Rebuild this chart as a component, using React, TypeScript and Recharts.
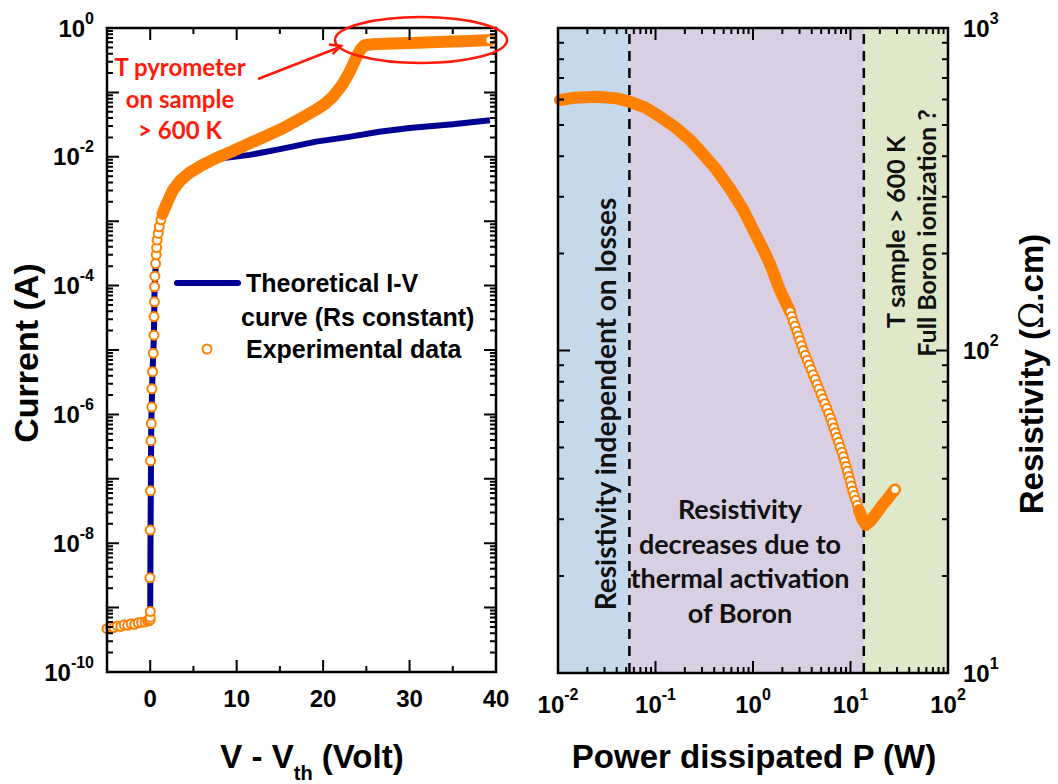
import React from "react";
import { ScatterChart, Scatter, XAxis, YAxis, ReferenceArea, ReferenceLine } from "recharts";

const ORANGE = "#ff8000";
const NAVY = "#000094";
const ARIAL = "'Liberation Sans', Arial, sans-serif";
const CALIBRI = "Lato, 'Open Sans', sans-serif";

// ---- left panel: current vs V - Vth ----
// reverse leakage, below threshold
const leakage: [number, number][] = [
  [-5.0, 4.7e-10], [-4.6, 5.0e-10], [-4.2, 4.9e-10], [-3.8, 5.2e-10], [-3.4, 5.1e-10],
  [-3.0, 5.4e-10], [-2.6, 5.3e-10], [-2.2, 5.6e-10], [-1.8, 5.5e-10], [-1.4, 5.8e-10],
  [-1.0, 5.9e-10], [-0.6, 6.0e-10], [-0.3, 6.2e-10], [-0.1, 6.3e-10], [0.0, 6.5e-10],
  [0.0, 7.1e-10], [0.01, 8.7e-10],
];
// turn-on, points still separated
const turnOn: [number, number][] = [
  [-0.03, 2.9e-9], [0.0, 1.6e-8], [0.03, 6.5e-8], [0.04, 1.9e-7], [0.08, 3.9e-7],
  [0.12, 7.2e-7], [0.18, 1.3e-6], [0.19, 2.5e-6], [0.27, 4.6e-6], [0.35, 8.9e-6],
  [0.43, 1.7e-5], [0.44, 3.3e-5], [0.49, 5.6e-5], [0.5, 9.6e-5], [0.54, 1.4e-4],
  [0.62, 2.2e-4], [0.69, 3.0e-4], [0.74, 3.9e-4], [0.8, 5.1e-4], [0.93, 6.5e-4],
  [1.04, 8.2e-4], [1.24, 1.05e-3],
];
// dense part of the measurement
const measured: [number, number][] = [
  [1.42, 1.3e-3], [1.6, 1.5e-3], [2.0, 2.0e-3], [2.6, 3.0e-3], [3.5, 4.3e-3],
  [4.5, 5.6e-3], [6.0, 7.4e-3], [7.6, 9.5e-3], [9.5, 1.22e-2], [11.5, 1.62e-2],
  [13.4, 2.1e-2], [15.3, 2.75e-2], [17.2, 3.8e-2], [19.2, 5.4e-2], [20.2, 6.6e-2],
  [21.1, 8.5e-2], [22.2, 0.13], [23.0, 0.2], [23.8, 0.34], [24.3, 0.46],
  [24.8, 0.54], [25.7, 0.56], [28.0, 0.575], [31.0, 0.59], [34.0, 0.61],
  [37.0, 0.63], [39.3, 0.65],
];
const theoretical: [number, number][] = [
  [0.0, 9e-10], [0.03, 1e-8], [0.12, 7e-7], [0.27, 4.6e-6], [0.43, 1.7e-5],
  [0.5, 9e-5], [0.7, 3e-4], [1.0, 8e-4], [1.43, 1.25e-3], [2.6, 3.0e-3],
  [4.5, 5.6e-3], [7.6, 9.2e-3], [11.5, 1.07e-2], [15.3, 1.34e-2], [19.2, 1.72e-2],
  [23.0, 2.04e-2], [26.5, 2.45e-2], [30.0, 2.8e-2], [35.0, 3.2e-2], [39.3, 3.7e-2],
];

// ---- right panel: resistivity vs dissipated power ----
const rhoPlateau: [number, number][] = [
  [0.0105, 598], [0.015, 608], [0.025, 612], [0.04, 605], [0.055, 590],
  [0.08, 565], [0.111, 531], [0.16, 492], [0.226, 450], [0.3, 410],
  [0.424, 363], [0.58, 318], [0.795, 273], [1.07, 228], [1.28, 205],
  [1.49, 186], [1.89, 154], [2.4, 132],
];
const rhoActivation: [number, number][] = [
  [2.40, 131.8], [2.50, 127.4], [2.59, 123.0], [2.70, 118.9], [2.81, 114.8],
  [2.92, 110.9], [3.03, 107.2], [3.16, 103.5], [3.28, 100.0], [3.44, 96.6],
  [3.60, 93.3], [3.77, 90.2], [3.95, 87.1], [4.14, 84.1], [4.34, 81.3],
  [4.54, 78.5], [4.75, 75.9], [4.98, 73.3], [5.21, 70.8], [5.46, 68.4],
  [5.72, 66.1], [5.98, 63.8], [6.24, 61.7], [6.49, 59.6], [6.73, 57.5],
  [7.00, 55.6], [7.26, 53.7], [7.55, 51.9], [7.83, 50.1], [8.15, 48.4],
  [8.45, 46.8], [8.73, 45.2], [9.02, 43.7], [9.29, 42.2], [9.59, 40.7],
  [9.91, 39.4], [10.21, 38.0], [10.54, 36.7], [10.91, 35.5], [11.32, 34.3],
  [11.75, 33.1], [12.19, 32.0],
];
const rhoUpturn: [number, number][] = [
  [12.19, 32.0], [13.2, 30.0], [14.4, 28.8], [16.0, 29.6], [18.5, 31.3],
  [21.0, 33.0], [23.5, 34.4], [26.0, 35.8], [28.6, 37.1],
];

const voltTicks = [0, 5, 10, 15, 20, 25, 30, 35, 40];
const currentDecades = [-10, -9, -8, -7, -6, -5, -4, -3, -2, -1, 0];
const powerDecades = [-2, -1, 0, 1, 2];
const rhoDecades = [1, 2, 3];
const regionEdges = [0.01, 0.054, 13.7, 100];
const regionFills = ["#c6d9ec", "#d9cfe3", "#e0e8ca"];

const pts = (a: [number, number][]) => a.map(([x, y]) => ({ x, y }));
const logTicks = (decs: number[]) => {
  const out: number[] = [];
  decs.slice(0, -1).forEach((d) => {
    for (let m = 1; m < 10; m++) out.push(m * 10 ** d);
  });
  out.push(10 ** decs[decs.length - 1]);
  return out;
};
const decadeOf = (v: number) => {
  const e = Math.log10(v);
  return Math.abs(e - Math.round(e)) < 1e-6 ? Math.round(e) : null;
};

// plot frames (page pixels), matching the chart margins below
const LEFT = { x: 107, y: 28, w: 389, h: 644 };
const RIGHT = { x: 558, y: 28, w: 390, h: 645 };

const labelStyle = { fontFamily: ARIAL, fontWeight: 700, fontSize: 24, fill: "#000" };

const pow10 = (x: number, y: number, exp: number, anchor: "start" | "middle" | "end") => (
  <text x={x} y={y} textAnchor={anchor} {...labelStyle}>
    <tspan>10</tspan>
    <tspan dy={-13} fontSize={16}>{String(exp)}</tspan>
  </text>
);

// axis tick labels
function CurrentTick(props: any) {
  const exp = decadeOf(props.payload.value);
  if (exp === null || exp % 2 !== 0) return <g />;
  return pow10(Number(props.x) - 13, Number(props.y) + 8.5, exp, "end");
}
function VoltTick(props: any) {
  const v = props.payload.value;
  if (v % 10 !== 0) return <g />;
  return <text x={Number(props.x)} y={Number(props.y) + 35} textAnchor="middle" {...labelStyle}>{v}</text>;
}
function PowerTick(props: any) {
  const exp = decadeOf(props.payload.value);
  if (exp === null) return <g />;
  return pow10(Number(props.x), Number(props.y) + 40, exp, "middle");
}
function RhoTick(props: any) {
  const exp = decadeOf(props.payload.value);
  if (exp === null) return <g />;
  return pow10(Number(props.x) + 15, Number(props.y) + 8.5, exp, "start");
}

// inward tick marks on all four sides of a frame
type Frame = { x: number; y: number; w: number; h: number };
const lin = (lo: number, hi: number) => (v: number) => (v - lo) / (hi - lo);
const logf = (lo: number, hi: number) => (v: number) => (Math.log10(v) - Math.log10(lo)) / (Math.log10(hi) - Math.log10(lo));
function FrameTicks({ f, xs, ys, fx, fy, xMajor, yMajor }: {
  f: Frame; xs: number[]; ys: number[];
  fx: (v: number) => number; fy: (v: number) => number;
  xMajor: (v: number) => boolean; yMajor: (v: number) => boolean;
}) {
  const d: string[] = [];
  xs.forEach((v) => {
    const px = f.x + fx(v) * f.w;
    const len = xMajor(v) ? 12 : 6;
    d.push(`M${px},${f.y + f.h}v${-len}M${px},${f.y}v${len}`);
  });
  ys.forEach((v) => {
    const py = f.y + f.h - fy(v) * f.h;
    const len = yMajor(v) ? 12 : 6;
    d.push(`M${f.x},${py}h${len}M${f.x + f.w},${py}h${-len}`);
  });
  return (
    <g>
      <path d={d.join("")} stroke="#000" strokeWidth={2} fill="none" />
      <rect x={f.x} y={f.y} width={f.w} height={f.h} fill="none" stroke="#000" strokeWidth={2.5} />
    </g>
  );
}

const openCircle = (p: any) => (
  <circle cx={p.cx} cy={p.cy} r={4.5} fill="#fff" stroke={ORANGE} strokeWidth={2} />
);
// dense runs of points: drawn as the band they form, with an open marker on the last one
const bandEnd = (arr: [number, number][]) => (p: any) => {
  const last = arr[arr.length - 1];
  if (p.payload && p.payload.x === last[0] && p.payload.y === last[1]) return openCircle(p);
  return <g />;
};
const bandLine = { stroke: ORANGE, strokeWidth: 12, strokeLinecap: "round", strokeLinejoin: "round" } as any;

function CurrentChart() {
  return (
    <ScatterChart width={530} height={784} margin={{ top: 28, right: 34, bottom: 52, left: 0 }}>
      <XAxis
        type="number"
        dataKey="x"
        domain={[-5, 40]}
        ticks={voltTicks}
        interval={0}
        tickSize={0}
        tickMargin={0}
        tickLine={false}
        height={60}
        stroke="#000"
        tick={(p: any) => <VoltTick {...p} />}
      />
      <YAxis
        type="number"
        dataKey="y"
        scale="log"
        domain={[1e-10, 1]}
        ticks={logTicks(currentDecades)}
        interval={0}
        tickSize={0}
        tickMargin={0}
        tickLine={false}
        width={107}
        stroke="#000"
        tick={(p: any) => <CurrentTick {...p} />}
      />
      <Scatter data={pts(theoretical)} line={{ stroke: NAVY, strokeWidth: 6 }} shape={() => <g />} isAnimationActive={false} />
      <Scatter data={pts(leakage)} shape={openCircle} isAnimationActive={false} />
      <Scatter data={pts(turnOn)} shape={openCircle} isAnimationActive={false} />
      <Scatter data={pts(measured)} line={bandLine} shape={bandEnd(measured)} isAnimationActive={false} />
    </ScatterChart>
  );
}

function ResistivityChart() {
  return (
    <ScatterChart width={528} height={784} margin={{ top: 28, right: 0, bottom: 51, left: 28 }}>
      <XAxis
        type="number"
        dataKey="x"
        scale="log"
        domain={[0.01, 100]}
        ticks={logTicks(powerDecades)}
        interval={0}
        tickSize={0}
        tickMargin={0}
        tickLine={false}
        height={60}
        stroke="#000"
        tick={(p: any) => <PowerTick {...p} />}
      />
      <YAxis
        type="number"
        dataKey="y"
        orientation="right"
        scale="log"
        domain={[10, 1000]}
        ticks={logTicks(rhoDecades)}
        interval={0}
        tickSize={0}
        tickMargin={0}
        tickLine={false}
        width={110}
        stroke="#000"
        tick={(p: any) => <RhoTick {...p} />}
      />
      {regionFills.map((f, i) => (
        <ReferenceArea key={f} x1={regionEdges[i]} x2={regionEdges[i + 1]} y1={10} y2={1000} fill={f} fillOpacity={1} stroke="none" />
      ))}
      <ReferenceLine x={regionEdges[1]} stroke="#000" strokeWidth={2.5} strokeDasharray="10 7" />
      <ReferenceLine x={regionEdges[2]} stroke="#000" strokeWidth={2.5} strokeDasharray="10 7" />
      <Scatter data={pts(rhoPlateau)} line={bandLine} shape={() => <g />} isAnimationActive={false} />
      <Scatter data={pts(rhoActivation)} shape={openCircle} isAnimationActive={false} />
      <Scatter data={pts(rhoUpturn)} line={bandLine} shape={bandEnd(rhoUpturn)} isAnimationActive={false} />
    </ScatterChart>
  );
}

const title = { fontFamily: ARIAL, fontWeight: 700, fill: "#000" };
const note = { fontFamily: CALIBRI, fontWeight: 700, fill: "#111" };
const red = "#ff1a0a";
const isDecade = (v: number) => decadeOf(v) !== null;

export default function App() {
  return (
    <div style={{ position: "absolute", left: 0, top: 0, width: 1058, height: 784, background: "#fff", fontFamily: ARIAL }}>
      <div style={{ position: "absolute", left: 0, top: 0 }}>
        <CurrentChart />
      </div>
      <div style={{ position: "absolute", left: 530, top: 0 }}>
        <ResistivityChart />
      </div>
      <svg width={1058} height={784} style={{ position: "absolute", left: 0, top: 0, pointerEvents: "none" }}>
        <FrameTicks
          f={LEFT}
          xs={voltTicks}
          ys={logTicks(currentDecades)}
          fx={lin(-5, 40)}
          fy={logf(1e-10, 1)}
          xMajor={(v) => v % 10 === 0}
          yMajor={isDecade}
        />
        <FrameTicks
          f={RIGHT}
          xs={logTicks(powerDecades)}
          ys={logTicks(rhoDecades)}
          fx={logf(0.01, 100)}
          fy={logf(10, 1000)}
          xMajor={isDecade}
          yMajor={isDecade}
        />

        {/* legend of the left panel */}
        <g {...labelStyle} fontSize={25}>
          <line x1={177} y1={283} x2={238} y2={283} stroke={NAVY} strokeWidth={6} strokeLinecap="round" />
          <text x={246} y={292}>Theoretical I-V</text>
          <text x={241} y={326}>curve (Rs constant)</text>
          <circle cx={207} cy={349} r={4.5} fill="#fff" stroke={ORANGE} strokeWidth={2} />
          <text x={246} y={358}>Experimental data</text>
        </g>

        {/* axis titles */}
        <text x={38} y={353} transform="rotate(-90 38 353)" textAnchor="middle" fontSize={34} {...title}>Current (A)</text>
        <text x={312} y={768} textAnchor="middle" fontSize={33} {...title}>
          V - V<tspan dy={12} fontSize={20}>th</tspan><tspan dy={-12}> (Volt)</tspan>
        </text>
        <text x={754} y={768} textAnchor="middle" fontSize={33} {...title}>Power dissipated P (W)</text>
        <text x={1043} y={374} transform="rotate(-90 1043 374)" textAnchor="middle" fontSize={33} {...title}>
          Resistivity (<tspan fontWeight={400} fontFamily="'DejaVu Serif', serif">Ω</tspan>.cm)
        </text>

        {/* pyrometer note */}
        <g fontFamily={CALIBRI} fontWeight={700} fontSize={24} fill={red} textAnchor="middle">
          <text x={180} y={76}>T pyrometer</text>
          <text x={180} y={108}>on sample</text>
          <text x={180} y={139}>&gt; 600 K</text>
        </g>
        <line x1={258} y1={79} x2={340} y2={47} stroke={red} strokeWidth={2.5} />
        <polyline points="329,44.6 341,46 332.6,54" fill="none" stroke={red} strokeWidth={2.5} />
        <ellipse cx={421} cy={40} rx={86} ry={23} fill="none" stroke={red} strokeWidth={2.5} />

        {/* region notes */}
        <text x={605} y={404} transform="rotate(-90 605 404)" textAnchor="middle" dominantBaseline="central" fontSize={28} {...note}>
          Resistivity independent on losses
        </text>
        <g textAnchor="middle" dominantBaseline="central" fontSize={27} {...note}>
          <text x={740} y={508}>Resistivity</text>
          <text x={740} y={543}>decreases due to</text>
          <text x={740} y={577}>thermal activation</text>
          <text x={740} y={612}>of Boron</text>
        </g>
        <text x={895} y={232} transform="rotate(-90 895 232)" textAnchor="middle" dominantBaseline="central" fontSize={25} {...note}>
          T sample &gt; 600 K
        </text>
        <text x={926} y={233} transform="rotate(-90 926 233)" textAnchor="middle" dominantBaseline="central" fontSize={25} {...note}>
          Full Boron ionization ?
        </text>
      </svg>
    </div>
  );
}
